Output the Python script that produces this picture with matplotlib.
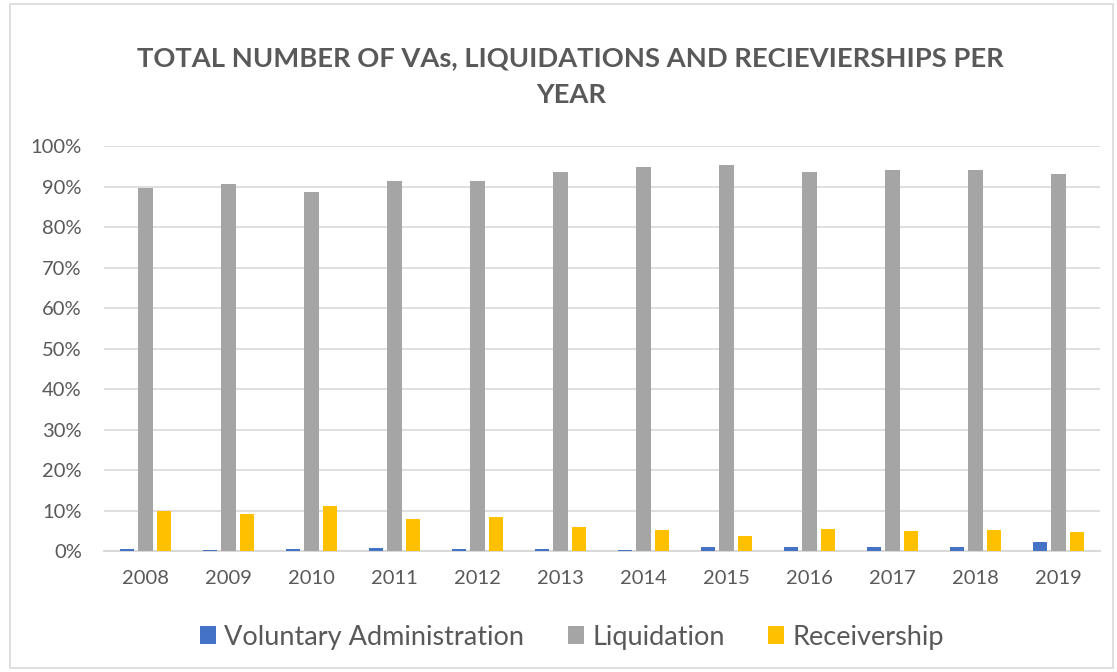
import numpy as np
import matplotlib.pyplot as plt
from matplotlib.patches import Rectangle

years = ["2008", "2009", "2010", "2011", "2012", "2013",
         "2014", "2015", "2016", "2017", "2018", "2019"]
voluntary_admin = [0.5, 0.25, 0.5, 0.75, 0.4, 0.5, 0.25, 1.0, 0.9, 0.9, 0.9, 2.25]
liquidation = [89.6, 90.7, 88.6, 91.3, 91.4, 93.7, 94.8, 95.3, 93.7, 94.1, 94.1, 93.1]
receivership = [9.8, 9.25, 11.0, 8.0, 8.3, 5.9, 5.2, 3.75, 5.5, 5.0, 5.2, 4.8]

series_names = ["Voluntary Administration", "Liquidation", "Receivership"]
colors = ["#4472C4", "#A5A5A5", "#FFC000"]
text_color = "#595959"

plt.rcParams["font.family"] = ["Lato", "DejaVu Sans"]

fig = plt.figure(figsize=(11.17, 6.72), dpi=100)
ax = fig.add_axes([0.0931, 0.180, 0.8917, 0.6027])

x = np.arange(len(years))
step = 0.222
width = 0.17
for i, (vals, name, col) in enumerate(zip(
        [voluntary_admin, liquidation, receivership], series_names, colors)):
    ax.bar(x + (i - 1) * step, np.array(vals) / 100, width,
           color=col, label=name, zorder=3)

ax.set_xlim(-0.5, len(years) - 0.5)
ax.set_ylim(0, 1)
ax.set_yticks(np.arange(0, 1.01, 0.1))
ax.set_yticklabels([f"{int(round(v * 100))}%" for v in np.arange(0, 1.01, 0.1)])
ax.set_xticks(x)
ax.set_xticklabels(years)

ax.grid(axis="y", color="#D9D9D9", linewidth=1.2, zorder=0)
for s in ["top", "right", "left"]:
    ax.spines[s].set_visible(False)
ax.spines["bottom"].set_color("#D9D9D9")
ax.spines["bottom"].set_linewidth(1.5)
ax.tick_params(axis="both", length=0, labelsize=14.5, colors=text_color)
ax.tick_params(axis="y", pad=16)
ax.tick_params(axis="x", pad=14)

fig.text(0.511, 0.886, "TOTAL NUMBER OF VAs, LIQUIDATIONS AND RECIEVIERSHIPS PER\nYEAR",
         ha="center", va="center", fontsize=19.7, fontweight="bold",
         color=text_color, linespacing=1.6)

fig.legend(loc="center", bbox_to_anchor=(0.512, 0.052), ncol=3, frameon=False,
           fontsize=19.5, labelcolor=text_color, handlelength=0.6,
           handleheight=0.6, handletextpad=0.3, columnspacing=1.6)

# chart border
fig.patches.append(Rectangle((10 / 1117, 4 / 672), 1103 / 1117, 664 / 672,
                             transform=fig.transFigure, fill=False,
                             edgecolor="#D9D9D9", linewidth=1.2))

fig.savefig("out.png", dpi=100)
